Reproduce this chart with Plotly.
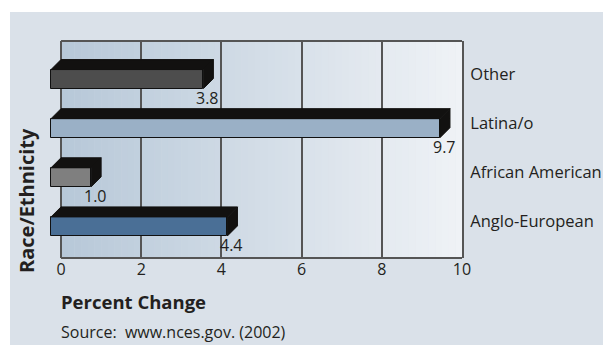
import plotly.graph_objects as go

# Percent change in enrollment by race/ethnicity
categories = ["Anglo-European", "African American", "Latina/o", "Other"]
values = [4.4, 1.0, 9.7, 3.8]
value_labels = ["4.4", "1.0", "9.7", "3.8"]
face_colors = ["#4a6f96", "#7f7f7f", "#9ab0c6", "#4d4d4d"]
x_ticks = [0, 2, 4, 6, 8, 10]

W, H = 603, 345
# x range starts a little below zero so the extruded bar fronts are not clipped
X_MIN, X_MAX = -0.3, 10
Y_RANGE = [-0.745, 3.673]
M = dict(l=49, r=141, t=41, b=87)

plot_w = W - M["l"] - M["r"]
plot_h = H - M["t"] - M["b"]
px_x = (X_MAX - X_MIN) / plot_w                 # data units per pixel, x
px_y = (Y_RANGE[1] - Y_RANGE[0]) / plot_h      # data units per pixel, y

depth_x = 10 * px_x      # 3-D extrusion offset
depth_y = 10 * px_y
face_h = 19 * px_y       # height of the front face
half = (19 + 10) / 2 * px_y

TEXT = "#231f20"
FRAME = "#555555"
FONT = "Open Sans"

fig = go.Figure()

# front faces of the 3-D bars
front_centers = [i - half + face_h / 2 for i in range(len(categories))]
fig.add_trace(go.Bar(
    y=front_centers, x=values, base=[-depth_x] * len(values),
    orientation="h", width=face_h,
    marker=dict(color=face_colors, line=dict(color="#111111", width=1)),
    hoverinfo="skip", showlegend=False,
))

# top and side faces
top_x, top_y, side_x, side_y = [], [], [], []
for i, v in enumerate(values):
    f_top = i - half + face_h
    f_bot = i - half
    top_x += [-depth_x, v - depth_x, v, 0, -depth_x, None]
    top_y += [f_top, f_top, f_top + depth_y, f_top + depth_y, f_top, None]
    side_x += [v - depth_x, v, v, v - depth_x, v - depth_x, None]
    side_y += [f_top, f_top + depth_y, f_bot + depth_y, f_bot, f_top, None]

for xs, ys in ((top_x, top_y), (side_x, side_y)):
    fig.add_trace(go.Scatter(
        x=xs, y=ys, mode="lines", fill="toself", fillcolor="#121110",
        line=dict(color="#121110", width=1),
        hoverinfo="skip", showlegend=False,
    ))

# value labels under each bar
for i, (v, lab) in enumerate(zip(values, value_labels)):
    fig.add_annotation(
        x=v, y=i - half, text=lab, showarrow=False,
        xanchor="right", yanchor="top", xshift=8, yshift=4,
        font=dict(family=FONT, size=16, color=TEXT),
    )

shapes = []
# light panel behind the whole chart
shapes.append(dict(
    type="rect", xref="paper", yref="paper", layer="below",
    x0=(10 - M["l"]) / plot_w, x1=(W - M["l"]) / plot_w,
    y0=-(H - M["t"] - plot_h) / plot_h, y1=(H - 12 - M["b"]) / plot_h,
    fillcolor="#dae1e9", line=dict(width=0),
))
# horizontal gradient across the plotting area (0..10)
n_strips = 60
c0 = (183, 200, 216)
c1 = (239, 242, 246)
step = (x_ticks[-1] - x_ticks[0]) / n_strips
for k in range(n_strips):
    t = k / (n_strips - 1)
    col = "rgb(%d,%d,%d)" % tuple(round(a + (b - a) * t) for a, b in zip(c0, c1))
    shapes.append(dict(
        type="rect", xref="x", yref="paper", layer="below",
        x0=x_ticks[0] + k * step, x1=x_ticks[0] + (k + 1) * step + step * 0.05,
        y0=0, y1=1, fillcolor=col, line=dict(width=0),
    ))
# top and bottom frame lines of the plotting area
for yy in (0, 1):
    shapes.append(dict(
        type="line", xref="x", yref="paper", layer="between",
        x0=x_ticks[0], x1=x_ticks[-1], y0=yy, y1=yy,
        line=dict(color=FRAME, width=2),
    ))

left_px = M["l"] + (0 - X_MIN) / px_x
fig.add_annotation(
    xref="paper", yref="paper", x=(left_px - M["l"]) / plot_w,
    y=-(301 - M["t"] - plot_h) / plot_h, xshift=-2,
    text="<b>Percent Change</b>", showarrow=False, xanchor="left", yanchor="middle",
    font=dict(family=FONT, size=18.5, color=TEXT),
)
fig.add_annotation(
    xref="paper", yref="paper", x=(left_px - M["l"]) / plot_w,
    y=-(332 - M["t"] - plot_h) / plot_h, xshift=-2,
    text="Source:  www.nces.gov. (2002)", showarrow=False, xanchor="left", yanchor="middle",
    font=dict(family=FONT, size=16, color=TEXT),
)
fig.add_annotation(
    xref="paper", yref="paper", x=(26 - M["l"]) / plot_w, y=(M["t"] + plot_h - 201) / plot_h,
    text="<b>Race/Ethnicity</b>", showarrow=False, textangle=-90,
    xanchor="center", yanchor="middle",
    font=dict(family=FONT, size=20, color=TEXT),
)

fig.update_layout(
    width=W, height=H, margin=M,
    paper_bgcolor="white", plot_bgcolor="rgba(0,0,0,0)",
    shapes=shapes, bargap=0,
    xaxis=dict(
        range=[X_MIN, X_MAX], tickvals=x_ticks, ticks="", showgrid=True,
        gridcolor=FRAME, gridwidth=2, zeroline=False, showline=False,
        automargin=False,
        tickfont=dict(family=FONT, size=16, color=TEXT), fixedrange=True,
    ),
    yaxis=dict(
        range=Y_RANGE, tickvals=list(range(len(categories))), ticktext=categories,
        side="right", ticks="", showgrid=False, zeroline=False,
        showline=True, linecolor=FRAME, linewidth=2, mirror=False,
        ticklabelstandoff=3, automargin=False,
        tickfont=dict(family=FONT, size=16.5, color=TEXT), fixedrange=True,
    ),
)

fig.write_html("out.html")
